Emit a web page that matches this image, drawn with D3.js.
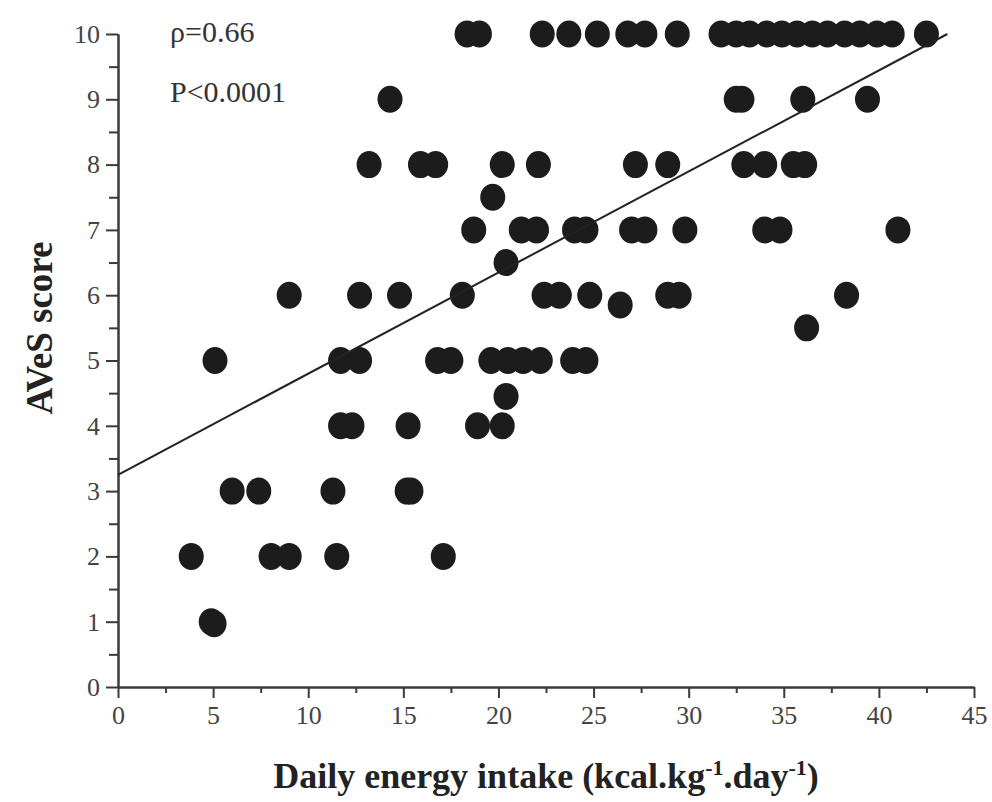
<!DOCTYPE html>
<html>
<head>
<meta charset="utf-8">
<script src="https://cdn.jsdelivr.net/npm/d3@7"></script>
<style>
  body { margin: 0; background: #fff; }
  svg { display: block; }
  text { font-family: "Liberation Serif", "Times New Roman", serif; }
</style>
</head>
<body>
<div id="chart"></div>
<script>
// values: energy intake (kcal/kg/day) vs AVeS score
const intake = [
  18.35, 19.0, 22.3, 23.7, 25.2, 26.8, 27.7, 29.4, 31.7, 32.5, 33.2, 34.1, 34.9, 35.7, 36.5, 37.3, 38.2, 39.0, 39.9, 40.7, 42.5,
  14.3, 32.5, 32.8, 36.0, 39.4,
  13.2, 15.9, 16.7, 20.2, 22.1, 27.2, 28.9, 32.9, 34.0, 35.5, 36.1,
  19.7,
  18.7, 21.2, 22.0, 24.0, 24.6, 27.0, 27.7, 29.8, 34.0, 34.8, 41.0,
  20.4,
  9.0, 12.7, 14.8, 18.1, 22.4, 23.2, 24.8, 28.9, 29.5, 38.3,
  26.4,
  36.2,
  5.1, 11.7, 12.7, 16.8, 17.5, 19.6, 20.5, 21.3, 22.2, 23.9, 24.6,
  20.4,
  11.7, 12.3, 15.25, 18.9, 20.2,
  6.0, 7.4, 11.3, 15.2, 15.4,
  3.85, 8.05, 9.0, 11.5, 17.1,
  4.9, 5.05
];
const aves = [
  10, 10, 10, 10, 10, 10, 10, 10, 10, 10, 10, 10, 10, 10, 10, 10, 10, 10, 10, 10, 10,
  9, 9, 9, 9, 9,
  8, 8, 8, 8, 8, 8, 8, 8, 8, 8, 8,
  7.5,
  7, 7, 7, 7, 7, 7, 7, 7, 7, 7, 7,
  6.5,
  6, 6, 6, 6, 6, 6, 6, 6, 6, 6,
  5.85,
  5.5,
  5, 5, 5, 5, 5, 5, 5, 5, 5, 5, 5,
  4.45,
  4, 4, 4, 4, 4,
  3, 3, 3, 3, 3,
  2, 2, 2, 2, 2,
  1, 0.97
];
// regression line end points
const fitLine = [[0, 3.25], [43.6, 10]];
const xTicks = [0, 5, 10, 15, 20, 25, 30, 35, 40, 45];
const xMinor = [2.5, 7.5, 12.5, 17.5, 22.5, 27.5, 32.5, 37.5, 42.5];
const yTicks = [0, 1, 2, 3, 4, 5, 6, 7, 8, 9, 10];
const yMinor = [0.5, 1.5, 2.5, 3.5, 4.5, 5.5, 6.5, 7.5, 8.5, 9.5];
const stats = ["\u03c1=0.66", "P<0.0001"];

const width = 992, height = 802;
const margin = { top: 34, right: 18, bottom: 115, left: 118 };

const svg = d3.select("#chart").append("svg")
  .attr("width", width)
  .attr("height", height);

const x = d3.scaleLinear().domain([0, 45]).range([margin.left, width - margin.right]);
const y = d3.scaleLinear().domain([0, 10]).range([height - margin.bottom, margin.top]);

const axisColor = "#3a3a3a";

// minor ticks first, major on top
svg.append("g")
  .attr("transform", `translate(0,${y(0)})`)
  .call(d3.axisBottom(x).tickValues(xMinor).tickSize(6).tickSizeOuter(0).tickFormat(""));
svg.append("g")
  .attr("transform", `translate(${x(0)},0)`)
  .call(d3.axisLeft(y).tickValues(yMinor).tickSize(9).tickSizeOuter(0).tickFormat(""));

svg.append("g")
  .attr("transform", `translate(0,${y(0)})`)
  .call(d3.axisBottom(x).tickValues(xTicks).tickSize(11).tickSizeOuter(0).tickPadding(8));
svg.append("g")
  .attr("transform", `translate(${x(0)},0)`)
  .call(d3.axisLeft(y).tickValues(yTicks).tickSize(12).tickSizeOuter(0).tickPadding(6));

svg.selectAll(".domain, .tick line")
  .attr("stroke", axisColor)
  .attr("stroke-width", 2);

svg.selectAll(".tick text")
  .attr("fill", "#444")
  .style("font-size", "26px")
  .style("font-family", "'Liberation Serif', serif");

// points
const pts = intake.map((v, i) => [v, aves[i]]);
svg.append("g")
  .selectAll("ellipse")
  .data(pts)
  .join("ellipse")
  .attr("cx", d => x(d[0]))
  .attr("cy", d => y(d[1]))
  .attr("rx", 12.5)
  .attr("ry", 13.5)
  .attr("fill", "#1c1c1c");

// regression line
svg.append("path")
  .attr("d", d3.line().x(d => x(d[0])).y(d => y(d[1]))(fitLine))
  .attr("fill", "none")
  .attr("stroke", "#222")
  .attr("stroke-width", 2);

// stats text
svg.selectAll(".stat")
  .data(stats)
  .join("text")
  .attr("class", "stat")
  .attr("x", 170)
  .attr("y", (d, i) => 42 + i * 60)
  .attr("fill", "#333")
  .style("font-size", "30px")
  .text(d => d);

// axis titles
svg.append("text")
  .attr("transform", "translate(52,328) rotate(-90)")
  .attr("text-anchor", "middle")
  .style("font-size", "37px")
  .style("font-weight", "bold")
  .attr("fill", "#222")
  .text("AVeS score");

const xt = svg.append("text")
  .attr("x", 546)
  .attr("y", 788)
  .attr("text-anchor", "middle")
  .style("font-size", "36px")
  .style("font-weight", "bold")
  .attr("fill", "#222");
xt.append("tspan").text("Daily energy intake (kcal.kg");
xt.append("tspan").attr("dy", -13).style("font-size", "22px").text("-1");
xt.append("tspan").attr("dy", 13).text(".day");
xt.append("tspan").attr("dy", -13).style("font-size", "22px").text("-1");
xt.append("tspan").attr("dy", 13).text(")");
</script>
</body>
</html>
